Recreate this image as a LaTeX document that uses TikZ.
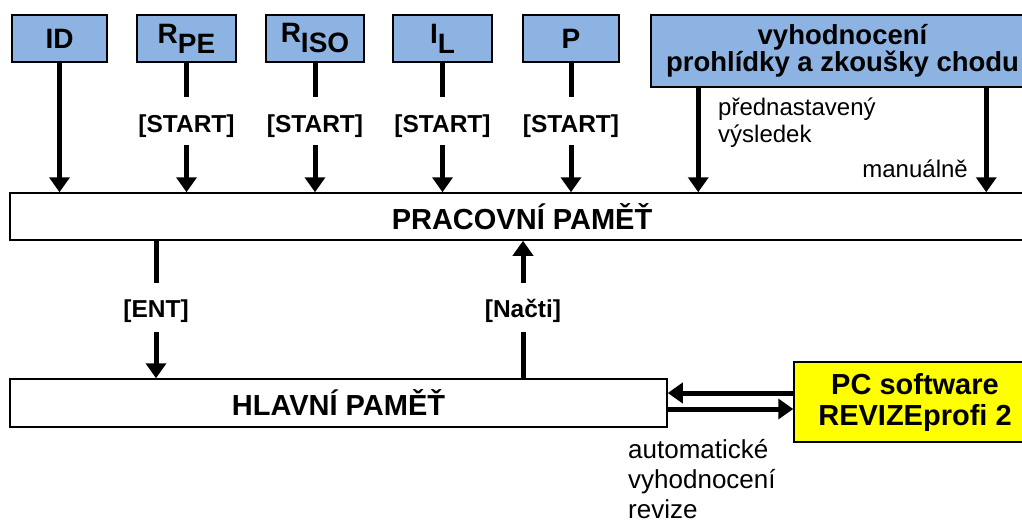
\documentclass[tikz,border=0pt]{standalone}
\usepackage{fontspec}
\setmainfont{Liberation Sans}
\usetikzlibrary{arrows.meta}
\definecolor{srcblue}{RGB}{141,179,226}
\definecolor{pcyellow}{RGB}{255,255,0}
\begin{document}
\begin{tikzpicture}[x=1pt,y=-1pt,
  box/.style={draw=black, line width=1.5pt, inner sep=0pt, fill=white,
    font=\bfseries\fontsize{29}{32}\selectfont},
  srcbox/.style={box, fill=srcblue, minimum height=47pt,
    font=\bfseries\fontsize{28}{27}\selectfont, align=center},
  lab/.style={inner sep=0pt, font=\bfseries\fontsize{24.5}{28}\selectfont},
  note/.style={inner sep=0pt, align=left, font=\fontsize{24}{27}\selectfont},
  seg/.style={line width=5pt},
  arr/.style={line width=5pt, -{Triangle[width=20pt,length=15pt]}}
]
\fill[white] (0,0) rectangle (1022,524);
\useasboundingbox (0,0) rectangle (1022,524);

% input sources
\node[srcbox, minimum width=95pt] (id)   at (59.5,38.5)  {ID};
\node[srcbox, minimum width=99pt] (rpe)  at (186.5,38.5) {R\raisebox{-10pt}{PE}};
\node[srcbox, minimum width=98pt] (riso) at (315,38.5)   {R\raisebox{-10pt}{ISO}};
\node[srcbox, minimum width=99pt] (il)   at (442.5,38.5) {I\raisebox{-10pt}{L}};
\node[srcbox, minimum width=96pt] (p)    at (571,38.5)   {P};
\node[srcbox, minimum width=383pt, minimum height=72pt,
  font=\bfseries\fontsize{27.5}{26}\selectfont] (vyh) at (842.5,51)
  {vyhodnocení\\prohlídky a zkoušky chodu};

% memories
\node[box, minimum width=1024pt, minimum height=47pt] (prac) at (522,216.5) {PRACOVNÍ PAMĚŤ};
\node[box, minimum width=657pt, minimum height=48pt] (hlav) at (338.5,403) {HLAVNÍ PAMĚŤ};
\node[box, fill=pcyellow, minimum width=242pt, minimum height=80pt, align=center,
  font=\bfseries\fontsize{29}{31}\selectfont] (pc) at (915,402)
  {PC software\\REVIZEprofi 2};

% key labels
\node[lab, minimum height=48pt] (s1) at (186.5,126) {[START]};
\node[lab, minimum height=48pt] (s2) at (315,126)   {[START]};
\node[lab, minimum height=48pt] (s3) at (442.5,126) {[START]};
\node[lab, minimum height=48pt] (s4) at (571,126)   {[START]};
\node[lab, minimum height=49pt] (ent) at (156,311) {[ENT]};
\node[lab, minimum height=49pt] (nac) at (523,311) {[Načti]};

% notes
\node[note, anchor=west] (pred) at (718,123) {přednastavený\\výsledek};
\node[note, anchor=base east] (man) at (968,177) {manuálně};
\node[note, anchor=north west, font=\fontsize{26}{30}\selectfont] (auto) at (628,439)
  {automatické\\vyhodnocení\\revize};

% sources into working memory
\draw[arr] (id.south) -- (id.south |- prac.north);
\foreach \s/\k in {rpe/s1, riso/s2, il/s3, p/s4}{
  \draw[seg] (\s.south) -- ([yshift=5pt]\k.north);
  \draw[arr] ([yshift=5pt]\k.south) -- (\k.south |- prac.north);
}
\draw[arr] ([xshift=48pt]vyh.south west) -- ([xshift=48pt]vyh.south west |- prac.north);
\draw[arr] ([xshift=336pt]vyh.south west) -- ([xshift=336pt]vyh.south west |- prac.north);

% working memory <-> main memory
\draw[seg] (prac.south -| ent) -- ([yshift=3.5pt]ent.north);
\draw[arr] ([yshift=3.5pt]ent.south) -- (ent.south |- hlav.north);
\draw[seg] (hlav.north -| nac) -- ([yshift=3.5pt]nac.south);
\draw[arr] ([yshift=3.5pt]nac.north) -- (nac.north |- prac.south);

% main memory <-> PC
\draw[arr] ([yshift=9pt]pc.west) -- ([yshift=9pt]pc.west -| hlav.east);
\draw[arr] ([yshift=-7pt]pc.west -| hlav.east) -- ([yshift=-7pt]pc.west);
\end{tikzpicture}
\end{document}
